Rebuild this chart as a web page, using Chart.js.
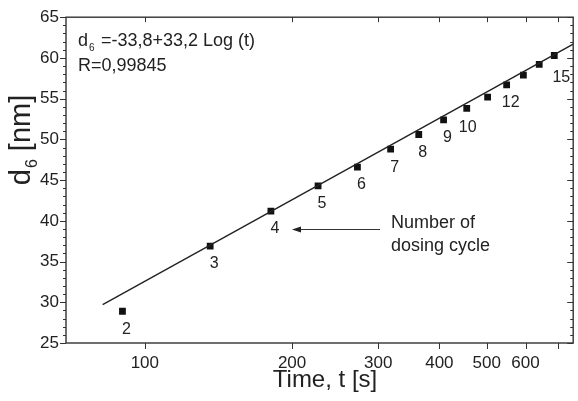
<!DOCTYPE html>
<html>
<head>
<meta charset="utf-8">
<script src="https://cdn.jsdelivr.net/npm/chart.js@4"></script>
<style>
  body { margin: 0; background: #fff; }
  #wrap { width: 578px; height: 401px; }
</style>
</head>
<body>
<div id="wrap"><canvas id="myChart" width="578" height="401"></canvas></div>
<script>
// measured points, time in s vs d6 in nm
const times = [90, 136, 181, 226, 272, 318, 363, 408, 455, 502, 549, 594, 640, 687];
const d6 = [28.9, 36.9, 41.2, 44.3, 46.6, 48.8, 50.6, 52.4, 53.8, 55.2, 56.7, 57.9, 59.2, 60.3];
// dosing cycle number written under each point (blank where none is printed)
const cycleLabels = ['2', '3', '4', '5', '6', '7', '8', '9', '10', '', '12', '', '', '15'];

// fitted line, end points
const fitTimes = [82, 751];
const fitValues = [29.7, 61.7];

const xTicks = [100, 200, 300, 400, 500, 600, 700];
const xTickLabels = ['100', '200', '300', '400', '500', '600', ''];
const yTicks = [25, 30, 35, 40, 45, 50, 55, 60, 65];

const FONT = '"Liberation Sans", Arial, sans-serif';
const INK = '#222';

const data = {
  datasets: [
    {
      type: 'line',
      label: 'fit',
      data: fitTimes.map((t, i) => ({ x: t, y: fitValues[i] })),
      borderColor: INK,
      borderWidth: 1.4,
      pointRadius: 0,
      fill: false
    },
    {
      type: 'scatter',
      label: 'd6',
      data: times.map((t, i) => ({ x: t, y: d6[i] })),
      pointStyle: 'rect',
      pointRadius: 4.8,
      backgroundColor: '#111',
      borderColor: '#111',
      borderWidth: 0
    }
  ]
};

// frame and tick marks (left/bottom outward, top/right inward)
const frameTicks = {
  id: 'frameTicks',
  afterDraw(chart) {
    const ctx = chart.ctx;
    const a = chart.chartArea;
    const xs = chart.scales.x;
    const ys = chart.scales.y;
    ctx.save();
    ctx.strokeStyle = '#333';
    ctx.lineWidth = 1.4;
    ctx.strokeRect(a.left, a.top, a.right - a.left, a.bottom - a.top);
    ctx.lineWidth = 1;
    ctx.beginPath();
    for (let v = 25; v <= 65; v++) {
      let len = v % 5 == 0 ? 6 : 3;
      let py = Math.round(ys.getPixelForValue(v)) + 0.5;
      ctx.moveTo(a.left - len, py);
      ctx.lineTo(a.left, py);
      ctx.moveTo(a.right - len, py);
      ctx.lineTo(a.right, py);
    }
    for (let i = 0; i < xTicks.length; i++) {
      let px = Math.round(xs.getPixelForValue(xTicks[i])) + 0.5;
      ctx.moveTo(px, a.bottom);
      ctx.lineTo(px, a.bottom + 6);
      ctx.moveTo(px, a.top);
      ctx.lineTo(px, a.top + 5);
    }
    ctx.stroke();
    ctx.restore();
  }
};

// titles, fit text, cycle numbers and the arrow note
const textLayer = {
  id: 'textLayer',
  afterDraw(chart) {
    const ctx = chart.ctx;
    const meta = chart.getDatasetMeta(1);
    ctx.save();
    ctx.fillStyle = INK;
    ctx.textAlign = 'left';
    ctx.textBaseline = 'alphabetic';

    // equation box text
    ctx.font = '18px ' + FONT;
    ctx.fillText('d', 78, 46);
    ctx.font = '10px ' + FONT;
    ctx.fillText('6', 89, 51);
    ctx.font = '18px ' + FONT;
    ctx.fillText(' =-33,8+33,2 Log (t)', 96, 46);
    ctx.fillText('R=0,99845', 78, 71);

    // cycle numbers under the points
    ctx.font = '16px ' + FONT;
    ctx.textAlign = 'center';
    ctx.textBaseline = 'middle';
    meta.data.forEach((pt, i) => {
      if (!cycleLabels[i]) return;
      let dx = 4, dy = 18;
      if (cycleLabels[i] == '15') { dx = 7; dy = 22; }
      if (cycleLabels[i] == '10') { dx = 1; dy = 19; }
      ctx.fillText(cycleLabels[i], pt.x + dx, pt.y + dy);
    });

    // note with arrow
    ctx.textAlign = 'left';
    ctx.textBaseline = 'alphabetic';
    ctx.font = '18px ' + FONT;
    ctx.fillText('Number of', 391, 228);
    ctx.fillText('dosing cycle', 391, 251);
    ctx.strokeStyle = '#333';
    ctx.lineWidth = 1;
    ctx.beginPath();
    ctx.moveTo(380, 229.5);
    ctx.lineTo(298, 229.5);
    ctx.stroke();
    ctx.beginPath();
    ctx.moveTo(292, 229.5);
    ctx.lineTo(301, 226.5);
    ctx.lineTo(301, 232.5);
    ctx.closePath();
    ctx.fill();

    // x title
    ctx.textAlign = 'center';
    ctx.font = '24px ' + FONT;
    ctx.fillText('Time, t [s]', 325, 387);

    // y title, rotated, with subscript
    ctx.translate(30, 140);
    ctx.rotate(-Math.PI / 2);
    ctx.textAlign = 'left';
    ctx.font = '29px ' + FONT;
    let wD = ctx.measureText('d').width;
    let wRest = ctx.measureText(' [nm]').width;
    ctx.font = '16px ' + FONT;
    let wSub = ctx.measureText('6').width;
    let x0 = -(wD + wSub + 1 + wRest) / 2;
    ctx.font = '29px ' + FONT;
    ctx.fillText('d', x0, 0);
    ctx.font = '16px ' + FONT;
    ctx.fillText('6', x0 + wD + 1, 7);
    ctx.font = '29px ' + FONT;
    ctx.fillText(' [nm]', x0 + wD + wSub + 1, 0);
    ctx.restore();
  }
};

const config = {
  data: data,
  options: {
    responsive: false,
    animation: false,
    devicePixelRatio: 1,
    layout: { padding: { left: 0, right: 3, top: 17, bottom: 0 } },
    plugins: {
      legend: { display: false },
      tooltip: { enabled: false }
    },
    scales: {
      x: {
        type: 'logarithmic',
        min: 69,
        max: 751,
        afterBuildTicks: (scale) => {
          scale.ticks = xTicks.map(v => ({ value: v }));
        },
        afterFit: (scale) => { scale.height = 58; },
        grid: { display: false, drawTicks: false },
        border: { display: false },
        ticks: {
          autoSkip: false,
          maxRotation: 0,
          padding: 10,
          color: INK,
          font: { family: FONT, size: 17 },
          callback: (v) => xTickLabels[xTicks.indexOf(v)]
        }
      },
      y: {
        type: 'linear',
        min: 25,
        max: 65,
        afterBuildTicks: (scale) => {
          scale.ticks = yTicks.map(v => ({ value: v }));
        },
        afterFit: (scale) => { scale.width = 66; },
        grid: { display: false, drawTicks: false },
        border: { display: false },
        ticks: {
          padding: 7,
          color: INK,
          font: { family: FONT, size: 17 }
        }
      }
    }
  },
  plugins: [frameTicks, textLayer]
};

const myChart = new Chart(document.getElementById('myChart'), config);
</script>
</body>
</html>
